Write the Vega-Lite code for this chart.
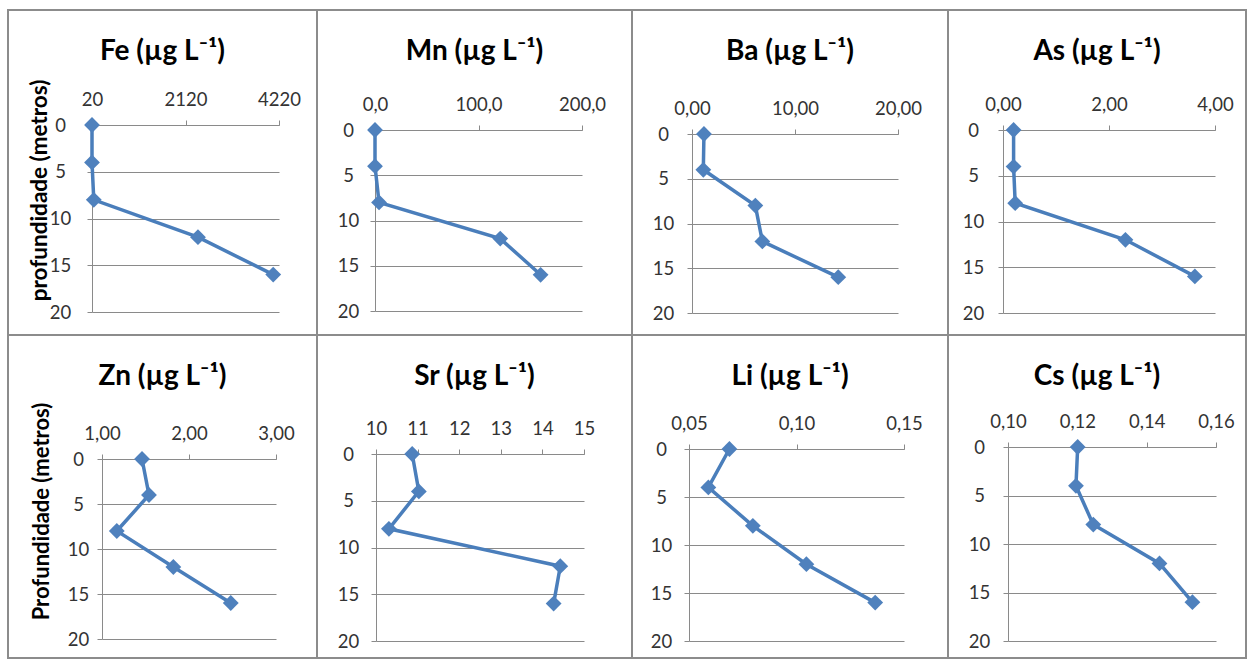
{
  "$schema": "https://vega.github.io/schema/vega-lite/v6.json",
  "padding": {"left": 7, "top": 9, "right": 0, "bottom": 0},
  "background": "white",
  "data": {"values": [
    {"element": "Fe", "depth": 0, "value": 20},
    {"element": "Fe", "depth": 4, "value": 20},
    {"element": "Fe", "depth": 8, "value": 60},
    {"element": "Fe", "depth": 12, "value": 2400},
    {"element": "Fe", "depth": 16, "value": 4090},
    {"element": "Mn", "depth": 0, "value": 0},
    {"element": "Mn", "depth": 4, "value": 0},
    {"element": "Mn", "depth": 8, "value": 3.9},
    {"element": "Mn", "depth": 12, "value": 121},
    {"element": "Mn", "depth": 16, "value": 160},
    {"element": "Ba", "depth": 0, "value": 1.16},
    {"element": "Ba", "depth": 4, "value": 1.1},
    {"element": "Ba", "depth": 8, "value": 6.15},
    {"element": "Ba", "depth": 12, "value": 6.83},
    {"element": "Ba", "depth": 16, "value": 14.2},
    {"element": "As", "depth": 0, "value": 0.2},
    {"element": "As", "depth": 4, "value": 0.2},
    {"element": "As", "depth": 8, "value": 0.23},
    {"element": "As", "depth": 12, "value": 2.31},
    {"element": "As", "depth": 16, "value": 3.62},
    {"element": "Zn", "depth": 0, "value": 1.46},
    {"element": "Zn", "depth": 4, "value": 1.54},
    {"element": "Zn", "depth": 8, "value": 1.17},
    {"element": "Zn", "depth": 12, "value": 1.82},
    {"element": "Zn", "depth": 16, "value": 2.48},
    {"element": "Sr", "depth": 0, "value": 10.87},
    {"element": "Sr", "depth": 4, "value": 11.03},
    {"element": "Sr", "depth": 8, "value": 10.31},
    {"element": "Sr", "depth": 12, "value": 14.43},
    {"element": "Sr", "depth": 16, "value": 14.27},
    {"element": "Li", "depth": 0, "value": 0.0688},
    {"element": "Li", "depth": 4, "value": 0.059},
    {"element": "Li", "depth": 8, "value": 0.0797},
    {"element": "Li", "depth": 12, "value": 0.1046},
    {"element": "Li", "depth": 16, "value": 0.1366},
    {"element": "Cs", "depth": 0, "value": 0.1201},
    {"element": "Cs", "depth": 4, "value": 0.1196},
    {"element": "Cs", "depth": 8, "value": 0.1246},
    {"element": "Cs", "depth": 12, "value": 0.1437},
    {"element": "Cs", "depth": 16, "value": 0.1532}
  ]},
  "spacing": 0,
  "bounds": "flush",
  "columns": 4,
  "concat": [
    {
      "width": 309, "height": 325,
      "title": {"text": "Fe (µg L⁻¹)"},
      "transform": [{"filter": "datum.element === 'Fe'"}],
      "mark": {"type": "line", "color": "#4A7EBB", "strokeWidth": 3.5, "point": {"shape": "diamond", "size": 250, "filled": true, "color": "#4F81BD"}},
      "encoding": {
        "x": {"field": "value", "type": "quantitative", "scale": {"domain": [20, 4220], "range": [84, 271], "nice": false, "zero": false},
              "axis": {"orient": "top", "offset": -115, "values": [20, 2120, 4220], "labelExpr": "format(datum.value, 'd')", "title": null}},
        "y": {"field": "depth", "type": "quantitative", "scale": {"domain": [0, 20], "range": [115, 302], "nice": false},
              "axis": {"offset": -84, "values": [0, 5, 10, 15, 20], "labelPadding": 27, "title": "profundidade  (metros)", "titleFontSize": 22.5, "titleX": -53, "titleY": 180, "titleAngle": -90, "titleAlign": "center", "titleBaseline": "middle"}},
        "order": {"field": "depth"}
      }
    },
    {
      "width": 315, "height": 325,
      "title": {"text": "Mn (µg L⁻¹)"},
      "transform": [{"filter": "datum.element === 'Mn'"}],
      "mark": {"type": "line", "color": "#4A7EBB", "strokeWidth": 3.5, "point": {"shape": "diamond", "size": 250, "filled": true, "color": "#4F81BD"}},
      "encoding": {
        "x": {"field": "value", "type": "quantitative", "scale": {"domain": [0, 200], "range": [58, 265], "nice": false, "zero": false},
              "axis": {"orient": "top", "offset": -120, "values": [0, 100, 200], "labelExpr": "replace(format(datum.value, '.1f'), '.', ',')", "title": null}},
        "y": {"field": "depth", "type": "quantitative", "scale": {"domain": [0, 20], "range": [120, 301], "nice": false},
              "axis": {"offset": -58, "values": [0, 5, 10, 15, 20], "labelPadding": 22, "title": null}},
        "order": {"field": "depth"}
      }
    },
    {
      "width": 316, "height": 325,
      "title": {"text": "Ba (µg L⁻¹)"},
      "transform": [{"filter": "datum.element === 'Ba'"}],
      "mark": {"type": "line", "color": "#4A7EBB", "strokeWidth": 3.5, "point": {"shape": "diamond", "size": 250, "filled": true, "color": "#4F81BD"}},
      "encoding": {
        "x": {"field": "value", "type": "quantitative", "scale": {"domain": [0, 20], "range": [60, 266], "nice": false, "zero": false},
              "axis": {"orient": "top", "offset": -124, "values": [0, 10, 20], "labelExpr": "replace(format(datum.value, '.2f'), '.', ',')", "title": null}},
        "y": {"field": "depth", "type": "quantitative", "scale": {"domain": [0, 20], "range": [124, 303], "nice": false},
              "axis": {"offset": -60, "values": [0, 5, 10, 15, 20], "labelPadding": 24, "title": null}},
        "order": {"field": "depth"}
      }
    },
    {
      "width": 298, "height": 325,
      "title": {"text": "As (µg L⁻¹)"},
      "transform": [{"filter": "datum.element === 'As'"}],
      "mark": {"type": "line", "color": "#4A7EBB", "strokeWidth": 3.5, "point": {"shape": "diamond", "size": 250, "filled": true, "color": "#4F81BD"}},
      "encoding": {
        "x": {"field": "value", "type": "quantitative", "scale": {"domain": [0, 4], "range": [55, 267], "nice": false, "zero": false},
              "axis": {"orient": "top", "offset": -120, "values": [0, 2, 4], "labelExpr": "replace(format(datum.value, '.2f'), '.', ',')", "title": null}},
        "y": {"field": "depth", "type": "quantitative", "scale": {"domain": [0, 20], "range": [120, 303], "nice": false},
              "axis": {"offset": -55, "values": [0, 5, 10, 15, 20], "labelPadding": 25, "title": null}},
        "order": {"field": "depth"}
      }
    },
    {
      "width": 309, "height": 323,
      "title": {"text": "Zn (µg L⁻¹)"},
      "transform": [{"filter": "datum.element === 'Zn'"}],
      "mark": {"type": "line", "color": "#4A7EBB", "strokeWidth": 3.5, "point": {"shape": "diamond", "size": 250, "filled": true, "color": "#4F81BD"}},
      "encoding": {
        "x": {"field": "value", "type": "quantitative", "scale": {"domain": [1, 3], "range": [94, 268], "nice": false, "zero": false},
              "axis": {"orient": "top", "offset": -124, "values": [1, 2, 3], "labelExpr": "replace(format(datum.value, '.2f'), '.', ',')", "title": null}},
        "y": {"field": "depth", "type": "quantitative", "scale": {"domain": [0, 20], "range": [124, 304], "nice": false},
              "axis": {"offset": -94, "values": [0, 5, 10, 15, 20], "labelPadding": 19, "title": "Profundidade (metros)", "titleFontSize": 22, "titleX": -61, "titleY": 176, "titleAngle": -90, "titleAlign": "center", "titleBaseline": "middle"}},
        "order": {"field": "depth"}
      }
    },
    {
      "width": 315, "height": 323,
      "title": {"text": "Sr (µg L⁻¹)"},
      "transform": [{"filter": "datum.element === 'Sr'"}],
      "mark": {"type": "line", "color": "#4A7EBB", "strokeWidth": 3.5, "point": {"shape": "diamond", "size": 250, "filled": true, "color": "#4F81BD"}},
      "encoding": {
        "x": {"field": "value", "type": "quantitative", "scale": {"domain": [10, 15], "range": [59, 267], "nice": false, "zero": false},
              "axis": {"orient": "top", "offset": -119, "values": [10, 11, 12, 13, 14, 15], "labelExpr": "format(datum.value, 'd')", "title": null}},
        "y": {"field": "depth", "type": "quantitative", "scale": {"domain": [0, 20], "range": [119, 306], "nice": false},
              "axis": {"offset": -59, "values": [0, 5, 10, 15, 20], "labelPadding": 23, "title": null}},
        "order": {"field": "depth"}
      }
    },
    {
      "width": 316, "height": 323,
      "title": {"text": "Li (µg L⁻¹)"},
      "transform": [{"filter": "datum.element === 'Li'"}],
      "mark": {"type": "line", "color": "#4A7EBB", "strokeWidth": 3.5, "point": {"shape": "diamond", "size": 250, "filled": true, "color": "#4F81BD"}},
      "encoding": {
        "x": {"field": "value", "type": "quantitative", "scale": {"domain": [0.05, 0.15], "range": [57, 272], "nice": false, "zero": false},
              "axis": {"orient": "top", "offset": -114, "values": [0.05, 0.1, 0.15], "labelExpr": "replace(format(datum.value, '.2f'), '.', ',')", "title": null}},
        "y": {"field": "depth", "type": "quantitative", "scale": {"domain": [0, 20], "range": [114, 306], "nice": false},
              "axis": {"offset": -57, "values": [0, 5, 10, 15, 20], "labelPadding": 23, "title": null}},
        "order": {"field": "depth"}
      }
    },
    {
      "width": 298, "height": 323,
      "title": {"text": "Cs (µg L⁻¹)"},
      "transform": [{"filter": "datum.element === 'Cs'"}],
      "mark": {"type": "line", "color": "#4A7EBB", "strokeWidth": 3.5, "point": {"shape": "diamond", "size": 250, "filled": true, "color": "#4F81BD"}},
      "encoding": {
        "x": {"field": "value", "type": "quantitative", "scale": {"domain": [0.1, 0.16], "range": [60, 268], "nice": false, "zero": false},
              "axis": {"orient": "top", "offset": -112, "values": [0.1, 0.12, 0.14, 0.16], "labelExpr": "replace(format(datum.value, '.2f'), '.', ',')", "title": null}},
        "y": {"field": "depth", "type": "quantitative", "scale": {"domain": [0, 20], "range": [112, 306], "nice": false},
              "axis": {"offset": -60, "values": [0, 5, 10, 15, 20], "labelPadding": 24, "title": null}},
        "order": {"field": "depth"}
      }
    }
  ],
  "config": {
    "view": {"stroke": "#8c8c8c", "strokeWidth": 2},
    "font": "Lato",
    "concat": {"spacing": 0},
    "axis": {
      "labelFont": "Lato", "labelFontSize": 18.5, "labelColor": "#333333",
      "domainColor": "#8a8a8a", "tickColor": "#8a8a8a", "gridColor": "#8a8a8a",
      "domainWidth": 1, "tickWidth": 1, "gridWidth": 1, "tickSize": 5,
      "labelFlush": false, "labelOverlap": false, "labelBound": false,
      "titleFont": "Lato", "titleFontSize": 22, "titleFontWeight": "bold", "titleColor": "#000000"
    },
    "axisX": {"grid": false, "labelBaseline": "alphabetic", "labelPadding": 15},
    "axisY": {"grid": true, "labelAlign": "center", "labelBaseline": "middle"},
    "title": {"font": "Lato", "fontSize": 28, "fontWeight": "bold", "color": "#000000", "anchor": "middle", "frame": "group", "offset": -56, "baseline": "middle"}
  }
}
